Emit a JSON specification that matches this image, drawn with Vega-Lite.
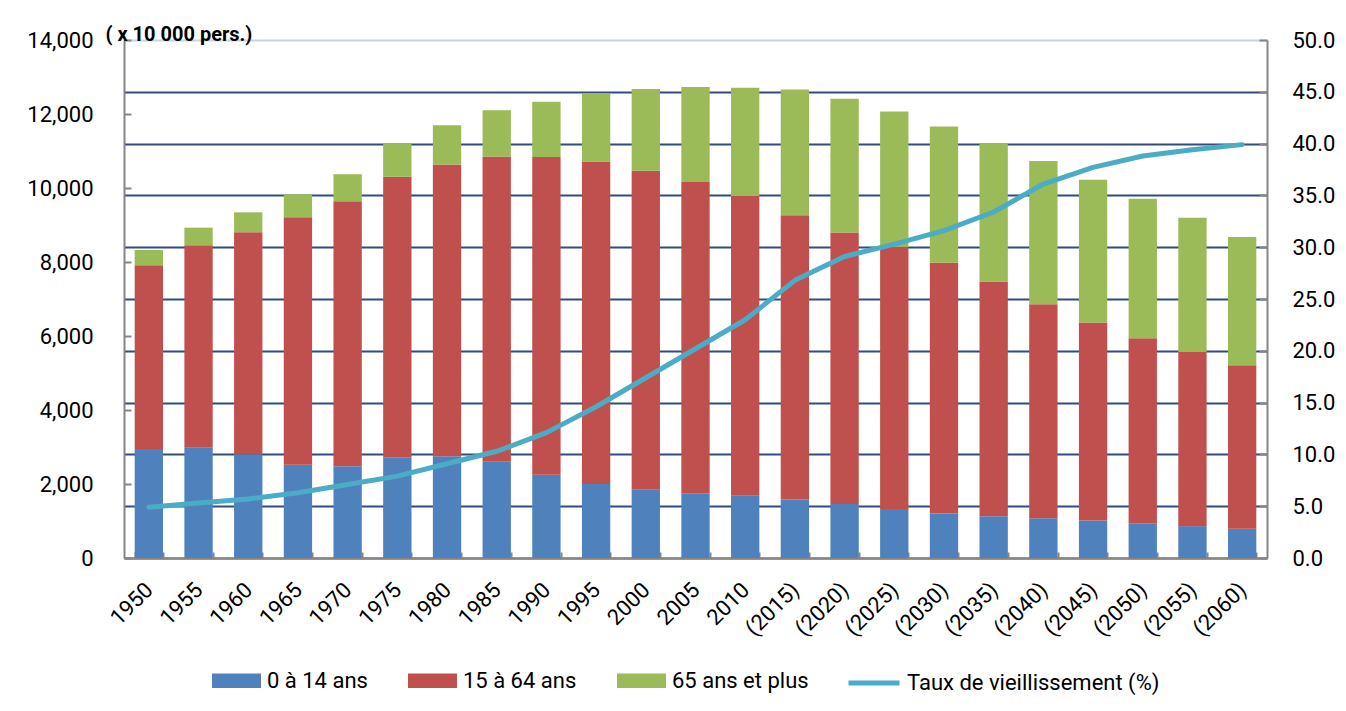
{
  "$schema": "https://vega.github.io/schema/vega-lite/v6.json",
  "width": 1143,
  "height": 518,
  "autosize": {"type": "none"},
  "padding": {"left": 124, "top": 40, "right": 79, "bottom": 153},
  "background": "white",
  "config": {
    "view": {"stroke": null},
    "font": "Roboto",
    "axis": {"labelFont": "Roboto", "labelColor": "#000000", "labelFontSize": 22, "labelFlush": false, "labelOverlap": false},
    "legend": {"labelFont": "Roboto", "labelColor": "#000000", "labelFontSize": 22, "labelLimit": 400}
  },
  "datasets": {
    "pop": [
      {"year": "1950", "group": "0 à 14 ans", "value": 2943}, {"year": "1950", "group": "15 à 64 ans", "value": 4966}, {"year": "1950", "group": "65 ans et plus", "value": 416},
      {"year": "1955", "group": "0 à 14 ans", "value": 2980}, {"year": "1955", "group": "15 à 64 ans", "value": 5473}, {"year": "1955", "group": "65 ans et plus", "value": 475},
      {"year": "1960", "group": "0 à 14 ans", "value": 2807}, {"year": "1960", "group": "15 à 64 ans", "value": 6000}, {"year": "1960", "group": "65 ans et plus", "value": 535},
      {"year": "1965", "group": "0 à 14 ans", "value": 2517}, {"year": "1965", "group": "15 à 64 ans", "value": 6693}, {"year": "1965", "group": "65 ans et plus", "value": 618},
      {"year": "1970", "group": "0 à 14 ans", "value": 2482}, {"year": "1970", "group": "15 à 64 ans", "value": 7157}, {"year": "1970", "group": "65 ans et plus", "value": 733},
      {"year": "1975", "group": "0 à 14 ans", "value": 2722}, {"year": "1975", "group": "15 à 64 ans", "value": 7581}, {"year": "1975", "group": "65 ans et plus", "value": 887},
      {"year": "1980", "group": "0 à 14 ans", "value": 2751}, {"year": "1980", "group": "15 à 64 ans", "value": 7883}, {"year": "1980", "group": "65 ans et plus", "value": 1065},
      {"year": "1985", "group": "0 à 14 ans", "value": 2603}, {"year": "1985", "group": "15 à 64 ans", "value": 8251}, {"year": "1985", "group": "65 ans et plus", "value": 1247},
      {"year": "1990", "group": "0 à 14 ans", "value": 2249}, {"year": "1990", "group": "15 à 64 ans", "value": 8590}, {"year": "1990", "group": "65 ans et plus", "value": 1489},
      {"year": "1995", "group": "0 à 14 ans", "value": 2001}, {"year": "1995", "group": "15 à 64 ans", "value": 8716}, {"year": "1995", "group": "65 ans et plus", "value": 1826},
      {"year": "2000", "group": "0 à 14 ans", "value": 1847}, {"year": "2000", "group": "15 à 64 ans", "value": 8622}, {"year": "2000", "group": "65 ans et plus", "value": 2204},
      {"year": "2005", "group": "0 à 14 ans", "value": 1752}, {"year": "2005", "group": "15 à 64 ans", "value": 8409}, {"year": "2005", "group": "65 ans et plus", "value": 2567},
      {"year": "2010", "group": "0 à 14 ans", "value": 1680}, {"year": "2010", "group": "15 à 64 ans", "value": 8103}, {"year": "2010", "group": "65 ans et plus", "value": 2925},
      {"year": "(2015)", "group": "0 à 14 ans", "value": 1583}, {"year": "(2015)", "group": "15 à 64 ans", "value": 7682}, {"year": "(2015)", "group": "65 ans et plus", "value": 3395},
      {"year": "(2020)", "group": "0 à 14 ans", "value": 1457}, {"year": "(2020)", "group": "15 à 64 ans", "value": 7341}, {"year": "(2020)", "group": "65 ans et plus", "value": 3612},
      {"year": "(2025)", "group": "0 à 14 ans", "value": 1324}, {"year": "(2025)", "group": "15 à 64 ans", "value": 7085}, {"year": "(2025)", "group": "65 ans et plus", "value": 3657},
      {"year": "(2030)", "group": "0 à 14 ans", "value": 1204}, {"year": "(2030)", "group": "15 à 64 ans", "value": 6773}, {"year": "(2030)", "group": "65 ans et plus", "value": 3685},
      {"year": "(2035)", "group": "0 à 14 ans", "value": 1129}, {"year": "(2035)", "group": "15 à 64 ans", "value": 6343}, {"year": "(2035)", "group": "65 ans et plus", "value": 3741},
      {"year": "(2040)", "group": "0 à 14 ans", "value": 1073}, {"year": "(2040)", "group": "15 à 64 ans", "value": 5787}, {"year": "(2040)", "group": "65 ans et plus", "value": 3868},
      {"year": "(2045)", "group": "0 à 14 ans", "value": 1012}, {"year": "(2045)", "group": "15 à 64 ans", "value": 5353}, {"year": "(2045)", "group": "65 ans et plus", "value": 3856},
      {"year": "(2050)", "group": "0 à 14 ans", "value": 939}, {"year": "(2050)", "group": "15 à 64 ans", "value": 5001}, {"year": "(2050)", "group": "65 ans et plus", "value": 3768},
      {"year": "(2055)", "group": "0 à 14 ans", "value": 861}, {"year": "(2055)", "group": "15 à 64 ans", "value": 4706}, {"year": "(2055)", "group": "65 ans et plus", "value": 3626},
      {"year": "(2060)", "group": "0 à 14 ans", "value": 791}, {"year": "(2060)", "group": "15 à 64 ans", "value": 4418}, {"year": "(2060)", "group": "65 ans et plus", "value": 3464}
    ],
    "rate": [
      {"year": "1950", "rate": 4.9}, {"year": "1955", "rate": 5.3}, {"year": "1960", "rate": 5.7}, {"year": "1965", "rate": 6.3},
      {"year": "1970", "rate": 7.1}, {"year": "1975", "rate": 7.9}, {"year": "1980", "rate": 9.1}, {"year": "1985", "rate": 10.3},
      {"year": "1990", "rate": 12.1}, {"year": "1995", "rate": 14.6}, {"year": "2000", "rate": 17.4}, {"year": "2005", "rate": 20.2},
      {"year": "2010", "rate": 23.0}, {"year": "(2015)", "rate": 26.8}, {"year": "(2020)", "rate": 29.1}, {"year": "(2025)", "rate": 30.3},
      {"year": "(2030)", "rate": 31.6}, {"year": "(2035)", "rate": 33.4}, {"year": "(2040)", "rate": 36.1}, {"year": "(2045)", "rate": 37.7},
      {"year": "(2050)", "rate": 38.8}, {"year": "(2055)", "rate": 39.4}, {"year": "(2060)", "rate": 39.9}
    ]
  },
  "layer": [
    {
      "data": {"name": "pop"},
      "mark": {"type": "bar"},
      "encoding": {
        "x": {
          "field": "year", "type": "nominal", "sort": null,
          "scale": {"paddingInner": 0.43, "paddingOuter": 0.215},
          "axis": {
            "title": null, "labelAngle": -45, "labelAlign": "right", "labelBaseline": "middle",
            "labelPadding": 34, "tickBand": "extent", "tickSize": -6, "tickColor": "#868686", "tickWidth": 2,
            "domainColor": "#868686", "domainWidth": 2, "grid": false
          }
        },
        "y": {
          "field": "value", "type": "quantitative", "stack": "zero",
          "scale": {"domain": [0, 14000], "nice": false},
          "axis": {
            "orient": "left", "values": [0, 2000, 4000, 6000, 8000, 10000, 12000, 14000], "format": ",d",
            "grid": false, "domainColor": "#868686", "domainWidth": 2,
            "tickColor": "#868686", "tickSize": -7, "tickWidth": 2, "labelPadding": 38,
            "title": "( x 10 000 pers.)", "titleAngle": 0, "titleX": -19, "titleY": -6,
            "titleAlign": "left", "titleBaseline": "middle", "titleFontSize": 20, "titleFontWeight": "bold",
            "titleFont": "Roboto", "titleColor": "#000000"
          }
        },
        "color": {
          "field": "group", "type": "nominal",
          "scale": {"domain": ["0 à 14 ans", "15 à 64 ans", "65 ans et plus"], "range": ["#4F81BD", "#C0504D", "#9BBB59"]},
          "legend": {
            "orient": "none", "legendX": 88, "legendY": 616, "direction": "horizontal", "title": null,
            "symbolType": "M-1,-0.3H1V0.3H-1Z", "symbolSize": 2401, "symbolStrokeWidth": 0, "symbolOpacity": 1,
            "labelOffset": 6, "columnPadding": 40, "padding": 0
          }
        },
        "order": {"field": "group", "sort": "ascending"}
      }
    },
    {
      "data": {"name": "rate"},
      "mark": {"type": "line", "strokeWidth": 5, "strokeJoin": "round", "strokeCap": "round"},
      "encoding": {
        "x": {"field": "year", "type": "nominal", "sort": null},
        "y": {
          "field": "rate", "type": "quantitative",
          "scale": {"domain": [0, 50], "nice": false},
          "axis": {
            "orient": "right", "values": [0, 5, 10, 15, 20, 25, 30, 35, 40, 45, 50], "format": ".1f",
            "grid": true,
            "gridColor": {"condition": {"test": "datum.value === 50", "value": "#c6d4e6"}, "value": "#2f4e7e"},
            "gridWidth": 2, "domainColor": "#868686", "domainWidth": 2,
            "tickColor": "#868686", "tickSize": -8, "tickWidth": 2, "labelPadding": 33, "title": null
          }
        },
        "stroke": {
          "datum": "Taux de vieillissement (%)", "type": "nominal",
          "scale": {"range": ["#4BACC6"]},
          "legend": {
            "orient": "none", "legendX": 722, "legendY": 615, "title": null,
            "symbolType": "stroke", "symbolSize": 2601, "symbolStrokeWidth": 5,
            "labelOffset": 5, "padding": 0
          }
        }
      }
    }
  ],
  "resolve": {"scale": {"y": "independent"}}
}
